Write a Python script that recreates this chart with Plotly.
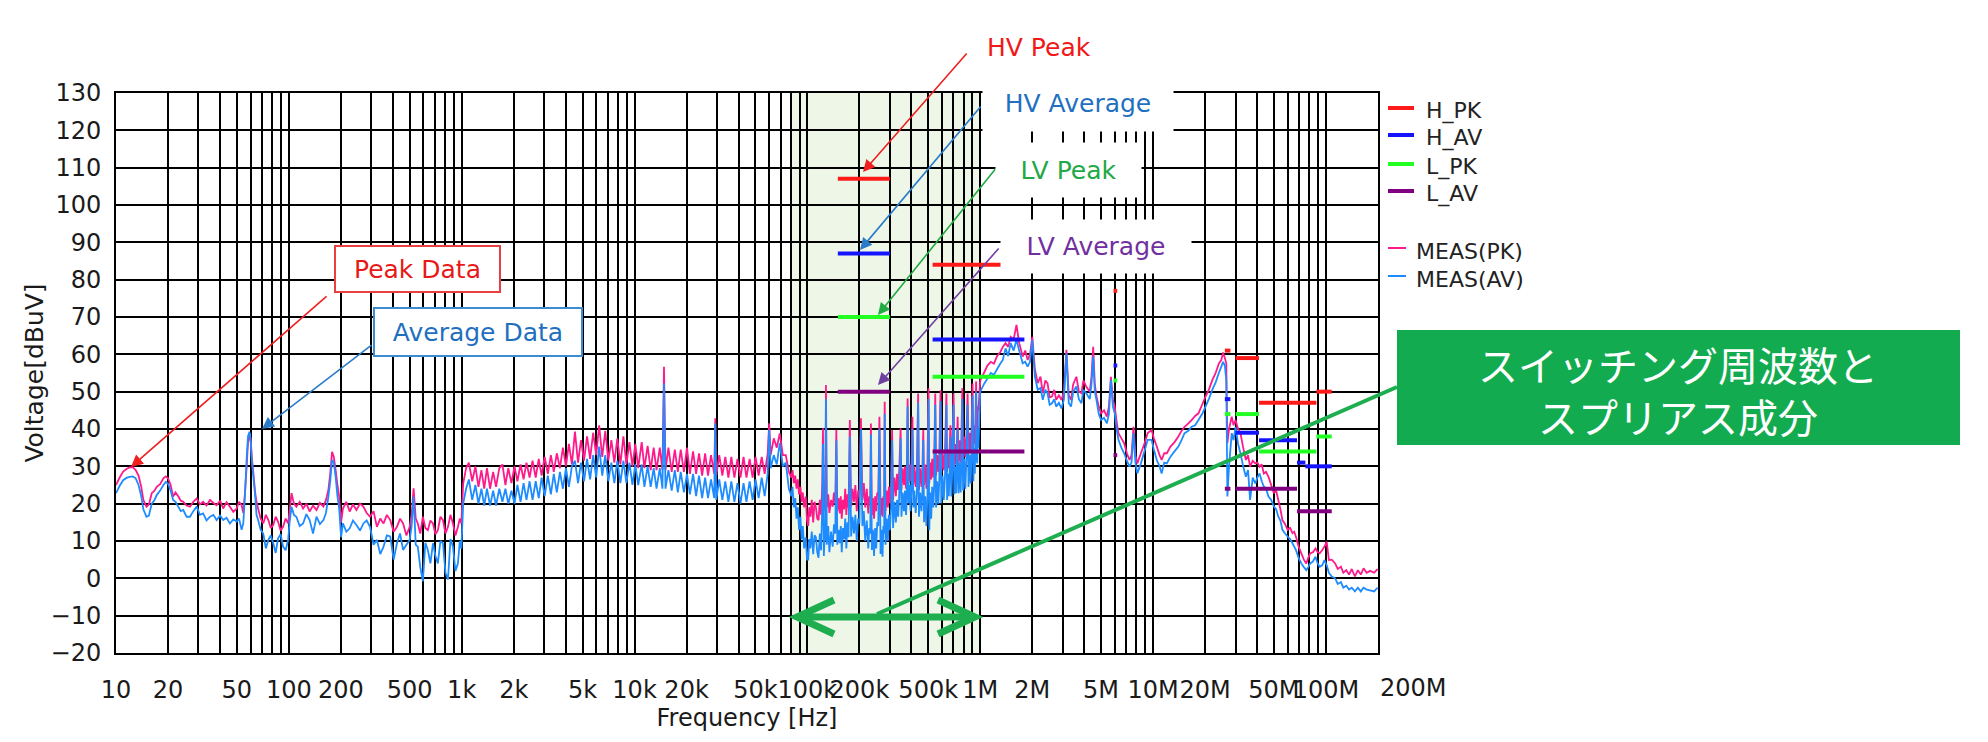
import math
import plotly.graph_objects as go

# ---------------- measured spectrum, read from the reference ----------------
# segment A : 10 Hz .. 1 kHz
freq_a = [10, 10.5, 11, 11.5, 12, 12.5, 13, 13.5, 14, 14.4,
          15, 15.5, 16.1, 16.7, 17.2, 18, 18.8, 19.4, 20, 20.7,
          21.4, 22.1, 22.9, 23.7, 24.5, 25.6, 26.8, 28, 29.3, 30.6,
          31.9, 33.4, 35, 36.6, 38.2, 40, 41.7, 43.6, 45.6, 47.7,
          49.9, 51.5, 53.3, 54.5, 55.7, 57, 58, 59, 59.6, 60.3,
          61, 62.4, 63.9, 65, 66.4, 68.7, 71.1, 73.6, 76.1, 78.6,
          81.2, 83.9, 86.6, 89.6, 92.6, 95.8, 99.1, 101, 103.6, 107,
          110.5, 115.6, 120.9, 126.3, 131.9, 138, 144.5, 151.3, 158.5, 164,
          169.3, 173.5, 177.8, 182, 186.5, 191, 195.5, 200.5, 205.5, 215,
          225, 235, 246, 258, 270, 282, 295, 309, 323, 338,
          353, 369, 386, 404, 422, 440, 458, 479, 500, 513,
          527, 542, 557, 576, 596, 616, 637, 659, 682, 705,
          728, 753, 779, 806, 833, 861, 890, 920, 951, 975,
          995]
pk_a = [25.0, 27.0, 28.6, 29.3, 29.7, 29.8, 29.0, 27.5, 24.5, 21.0,
        19.2, 19.8, 22.8, 23.5, 24.5, 25.2, 26.8, 27.3, 26.8, 25.0,
        21.9, 23.0, 22.0, 20.8, 20.5, 19.5, 19.2, 20.5, 21.4, 19.8,
        20.5, 19.5, 21.0, 20.2, 19.6, 20.8, 18.7, 20.4, 19.2, 17.8,
        18.7, 20.5, 19.6, 17.5, 22.8, 30.0, 36.2, 38.0, 38.4, 36.5,
        32.6, 28.0, 22.8, 20.5, 18.7, 16.0, 14.7, 17.0, 15.6, 13.5,
        14.3, 16.5, 15.2, 12.8, 13.8, 16.0, 14.7, 18.0, 22.8, 20.0,
        19.2, 20.5, 18.7, 20.0, 17.9, 19.5, 18.3, 20.2, 19.2, 21.0,
        23.7, 28.0, 33.9, 32.5, 29.0, 25.0, 21.9, 15.0, 18.7, 20.5,
        17.9, 19.8, 18.3, 20.0, 19.2, 17.5, 16.5, 18.0, 13.8, 16.0,
        14.7, 17.0, 15.6, 12.5, 13.8, 16.0, 14.7, 11.5, 13.8, 17.0,
        24.1, 16.0, 14.7, 12.0, 16.5, 13.5, 12.9, 15.5, 14.7, 11.8,
        12.9, 16.5, 15.6, 12.0, 13.8, 17.0, 14.7, 11.5, 13.8, 16.0,
        14.7]
av_a = [22.8, 24.8, 26.3, 26.9, 27.2, 27.3, 26.8, 25.0, 22.0, 18.5,
        16.5, 16.8, 20.0, 21.0, 22.3, 23.5, 25.0, 25.8, 25.4, 23.5,
        21.0, 20.5, 19.2, 18.0, 18.3, 16.5, 16.5, 18.0, 19.2, 17.0,
        17.4, 15.5, 16.5, 17.0, 15.6, 16.8, 15.6, 16.2, 14.7, 15.8,
        15.2, 16.0, 13.0, 14.7, 21.9, 32.0, 38.0, 39.0, 38.8, 36.0,
        31.7, 27.0, 21.9, 17.0, 15.6, 13.0, 12.0, 8.0, 10.3, 11.5,
        9.4, 6.8, 10.7, 11.8, 8.5, 7.5, 10.3, 15.0, 19.2, 17.0,
        16.5, 14.0, 14.7, 17.2, 15.6, 12.0, 16.5, 14.5, 15.6, 17.5,
        21.9, 26.0, 31.7, 31.0, 27.2, 22.0, 18.7, 11.0, 14.7, 12.5,
        13.4, 15.5, 14.3, 12.8, 14.7, 15.5, 13.8, 9.0, 10.3, 6.5,
        8.5, 11.5, 11.2, 5.0, 9.4, 12.0, 7.6, 9.0, 10.3, 14.0,
        21.9, 9.0, 8.5, 3.0, -0.8, 9.5, 7.6, 4.0, 9.4, 6.0,
        4.0, 10.0, 9.4, 1.5, -0.3, 10.5, 8.5, 2.0, 4.0, 10.0,
        8.0]

# segment B : 1 kHz .. 80 kHz
freq_b = [1020, 1060, 1100, 1150, 1200, 1250, 1300, 1350, 1400, 1460,
          1520, 1580, 1650, 1720, 1790, 1860, 1940, 2020, 2100, 2190,
          2280, 2370, 2470, 2570, 2680, 2790, 2900, 3020, 3150, 3280,
          3410, 3550, 3700, 3850, 4010, 4170, 4340, 4520, 4710, 4900,
          5100, 5310, 5530, 5760, 6000, 6240, 6500, 6770, 7050, 7340,
          7640, 7950, 8280, 8620, 8970, 9340, 9720, 10100, 10500, 11000,
          11400, 11900, 12400, 12900, 13400, 14000, 14500, 14800, 15100, 15700,
          16400, 17100, 17800, 18500, 19300, 20100, 20900, 21800, 22700, 23600,
          24600, 25600, 26600, 27700, 28900, 29300, 29700, 30900, 32200, 33500,
          34900, 36300, 37800, 39400, 41000, 42700, 44400, 46300, 48200, 50100,
          52200, 54400, 56600, 58900, 60100, 61300, 63900, 66500, 69200, 72100,
          75000, 78100]
pk_b = [25.4, 29.5, 31.0, 26.0, 30.0, 24.5, 29.0, 24.0, 29.5, 24.0,
        28.5, 24.5, 29.5, 30.5, 25.0, 29.5, 25.5, 30.0, 26.0, 30.5,
        26.5, 31.0, 27.0, 31.5, 27.0, 32.0, 27.5, 32.5, 28.0, 33.0,
        28.5, 33.5, 29.5, 35.0, 30.0, 36.0, 30.5, 39.3, 31.0, 37.0,
        31.5, 38.0, 32.0, 39.0, 33.0, 41.0, 32.5, 39.5, 31.5, 37.0,
        31.0, 37.5, 30.5, 38.0, 30.5, 36.5, 30.0, 36.0, 29.5, 36.5,
        29.5, 35.5, 29.0, 35.0, 29.0, 35.0, 29.0, 56.7, 29.0, 35.0,
        28.5, 34.5, 28.5, 34.5, 28.5, 35.0, 28.0, 34.0, 28.0, 33.5,
        27.5, 33.5, 27.5, 33.0, 28.0, 42.9, 27.5, 33.0, 27.5, 32.5,
        27.0, 32.5, 27.0, 32.0, 27.0, 32.5, 27.0, 32.0, 27.0, 32.5,
        27.5, 32.5, 28.0, 33.5, 41.5, 33.0, 37.5, 35.0, 38.8, 33.0,
        33.0, 28.5]
av_b = [20.0, 24.0, 26.5, 21.0, 25.0, 20.0, 24.0, 19.5, 24.0, 19.5,
        23.5, 19.5, 24.0, 20.5, 24.0, 20.0, 23.5, 20.0, 25.0, 20.5,
        25.5, 21.0, 26.0, 21.0, 26.0, 21.5, 27.0, 22.0, 27.5, 22.5,
        28.0, 23.0, 28.5, 24.0, 29.5, 24.5, 30.0, 31.5, 25.5, 31.0,
        26.0, 32.0, 26.5, 33.0, 27.0, 35.3, 27.5, 33.0, 26.0, 31.0,
        25.5, 31.5, 25.5, 31.5, 25.5, 31.0, 25.0, 30.5, 25.0, 30.5,
        24.5, 30.0, 24.5, 29.5, 24.0, 29.5, 24.0, 52.2, 24.0, 29.0,
        23.5, 29.0, 23.0, 28.5, 23.0, 28.0, 22.5, 28.0, 22.0, 27.5,
        21.5, 27.0, 21.5, 26.5, 21.5, 41.5, 21.0, 26.5, 21.0, 26.0,
        20.5, 26.0, 20.5, 25.5, 20.0, 25.5, 20.5, 26.0, 21.0, 26.5,
        21.5, 27.0, 22.0, 28.0, 39.7, 29.5, 33.0, 30.5, 36.2, 30.0,
        31.0, 24.0]

# segment C : 80 kHz .. 1 MHz (switching frequency and its harmonics)
freq_c = [80800, 82000, 83500, 85000, 86500, 88000, 89500, 91100, 92600, 94000,
          95800, 97800, 99500, 101000, 102500, 104000, 106000, 108000, 110000, 112000,
          114000, 116000, 118000, 120000, 122000, 123000, 124500, 126000, 127000, 128000,
          129500, 132000, 134000, 137000, 140000, 142500, 145000, 147000, 149000, 151500,
          154000, 156000, 158000, 160500, 163000, 165500, 168000, 170500, 173000, 176000,
          179000, 182500, 186000, 189500, 193000, 196500, 200000, 204000, 208000, 212000,
          216000, 220500, 225000, 228000, 231000, 233000, 236000, 239500, 243000, 246500,
          250000, 253500, 257000, 261000, 265000, 268500, 272000, 275000, 278000, 280000,
          283000, 287500, 292000, 296000, 300000, 305000, 309000, 313000, 319000, 325000,
          330000, 335000, 340000, 346000, 350000, 356000, 362000, 367000, 372000, 376000,
          380000, 385000, 390000, 395000, 400000, 405000, 410000, 416000, 423000, 430000,
          437000, 442000, 449000, 457000, 463000, 468000, 473000, 480000, 488000, 495000,
          502000, 507000, 513000, 520000, 527000, 535000, 542000, 549000, 555000, 563000,
          572000, 580000, 589000, 595000, 605000, 615000, 626000, 637000, 643000, 650000,
          658000, 665000, 672000, 680000, 690000, 701000, 708000, 716000, 725000, 733000,
          740000, 748000, 758000, 770000, 778000, 787000, 795000, 807000, 820000, 832000,
          845000, 855000, 867000, 880000, 891000, 902000, 912000, 921000, 930000, 938000,
          946000, 953000, 960000, 968000, 975000]
pk_c = [27.0, 29.0, 25.5, 27.5, 24.0, 26.5, 22.5, 24.5, 20.5, 23.0,
        19.0, 21.9, 15.5, 14.0, 19.0, 16.5, 21.0, 15.0, 20.5, 19.0,
        16.0, 15.6, 21.0, 17.0, 26.0, 40.2, 18.0, 22.0, 20.0, 51.8,
        19.0, 22.5, 17.5, 21.0, 19.2, 23.0, 20.0, 39.7, 18.0, 21.5,
        17.4, 22.0, 16.0, 21.0, 18.5, 24.0, 17.0, 22.5, 19.0, 42.4,
        19.2, 24.0, 20.5, 25.0, 18.0, 23.5, 21.9, 42.9, 21.0, 25.5,
        19.0, 24.0, 17.4, 22.0, 20.0, 41.5, 17.0, 21.5, 16.0, 22.0,
        18.0, 23.0, 22.0, 43.3, 17.0, 21.5, 16.5, 22.0, 20.0, 47.3,
        18.0, 23.5, 19.0, 24.5, 20.1, 26.0, 39.7, 21.0, 27.0, 22.0,
        28.0, 23.7, 29.0, 40.2, 23.7, 29.5, 25.0, 30.0, 24.0, 29.0,
        48.2, 25.4, 30.5, 26.0, 31.0, 43.3, 25.0, 30.0, 24.5, 29.5,
        49.5, 23.7, 29.5, 24.5, 30.0, 39.7, 25.0, 30.5, 24.0, 31.0,
        50.9, 25.4, 31.0, 26.5, 32.0, 27.0, 32.5, 49.5, 27.5, 33.0,
        28.5, 33.5, 50.4, 28.1, 34.0, 29.0, 34.5, 49.5, 28.5, 34.5,
        29.5, 35.0, 41.0, 29.0, 35.5, 49.5, 30.0, 36.0, 30.5, 36.5,
        43.3, 30.8, 37.0, 31.0, 37.5, 50.9, 31.5, 38.0, 32.5, 38.5,
        49.5, 33.0, 39.0, 34.4, 40.0, 52.2, 34.0, 41.0, 36.0, 42.0,
        52.7, 40.0, 38.0, 46.0, 45.0]
av_c = [22.0, 24.5, 19.0, 21.5, 16.0, 19.0, 13.0, 16.5, 10.5, 14.0,
        8.0, 11.0, 5.0, 5.0, 10.5, 8.0, 12.5, 6.5, 11.5, 11.0,
        7.0, 5.5, 12.0, 7.5, 20.0, 36.0, 6.0, 13.0, 10.0, 48.0,
        9.0, 14.0, 7.0, 12.5, 8.5, 14.5, 12.0, 37.0, 9.0, 13.0,
        9.4, 14.0, 7.0, 13.5, 10.5, 16.0, 8.0, 15.0, 11.0, 38.0,
        11.2, 16.5, 12.0, 17.0, 10.0, 16.0, 14.7, 40.0, 14.0, 18.0,
        10.0, 15.5, 8.0, 13.5, 12.0, 38.5, 7.6, 13.0, 6.0, 13.5,
        8.0, 15.0, 14.0, 40.0, 6.5, 13.0, 5.8, 14.0, 12.0, 44.0,
        9.0, 16.0, 10.0, 17.0, 12.9, 19.0, 37.0, 13.5, 20.5, 15.0,
        21.0, 16.5, 22.5, 37.5, 16.5, 23.0, 18.0, 23.5, 17.0, 22.0,
        46.0, 20.1, 25.0, 18.0, 24.5, 40.0, 19.0, 23.5, 17.5, 22.5,
        47.0, 16.5, 23.0, 18.0, 23.5, 37.0, 15.0, 22.0, 14.0, 22.5,
        48.0, 12.9, 23.0, 16.0, 24.5, 19.0, 25.5, 46.5, 19.0, 26.0,
        20.0, 27.0, 47.5, 20.1, 27.5, 21.0, 28.0, 46.5, 21.0, 28.0,
        22.0, 29.0, 38.0, 21.9, 29.5, 46.5, 22.5, 30.0, 22.8, 30.5,
        40.0, 22.8, 31.0, 23.0, 31.5, 48.0, 23.5, 32.0, 24.0, 32.5,
        46.5, 24.5, 33.0, 25.4, 34.0, 49.0, 26.0, 35.0, 28.0, 36.0,
        50.0, 33.0, 30.8, 40.0, 35.0]

# segment D : 1 MHz .. 200 MHz
freq_d = [1.0e6, 1.05e6, 1.1e6, 1.15e6, 1.2e6, 1.25e6, 1.31e6, 1.35e6, 1.4e6, 1.45e6,
          1.5e6, 1.56e6, 1.62e6, 1.68e6, 1.76e6, 1.82e6, 1.88e6, 1.94e6, 2.0e6, 2.07e6,
          2.15e6, 2.23e6, 2.3e6, 2.38e6, 2.45e6, 2.52e6, 2.6e6, 2.68e6, 2.75e6, 2.85e6,
          2.95e6, 3.05e6, 3.15e6, 3.25e6, 3.35e6, 3.45e6, 3.6e6, 3.72e6, 3.85e6, 3.95e6,
          4.1e6, 4.3e6, 4.4e6, 4.5e6, 4.6e6, 4.7e6, 4.85e6, 5.0e6, 5.2e6, 5.4e6,
          5.55e6, 5.7e6, 5.85e6, 6.0e6, 6.15e6, 6.3e6, 6.55e6, 6.8e6, 7.05e6, 7.3e6,
          7.5e6, 7.7e6, 7.9e6, 8.1e6, 8.5e6, 8.9e6, 9.3e6, 9.8e6, 10.1e6, 10.5e6,
          10.9e6, 11.2e6, 11.6e6, 12.0e6, 12.6e6, 13.3e6, 14.0e6, 14.6e6, 15.2e6, 16.0e6,
          16.7e6, 17.5e6, 18.3e6, 19.2e6, 20.1e6, 21.0e6, 22.0e6, 23.0e6, 24.0e6, 24.8e6,
          25.4e6, 26.0e6, 26.5e6, 26.9e6, 27.5e6, 28.5e6, 29.2e6, 30.0e6, 31.0e6, 32.0e6,
          33.2e6, 34.4e6, 35.4e6, 36.4e6, 37.7e6, 39.0e6, 40.1e6, 41.3e6, 42.5e6, 43.7e6,
          45.0e6, 46.5e6, 48.2e6, 50.0e6, 51.5e6, 53.0e6, 54.5e6, 56.0e6, 58.0e6, 60.0e6,
          62.0e6, 64.0e6, 65.5e6, 67.0e6, 69.5e6, 72.0e6, 74.5e6, 77.0e6, 79.0e6, 81.0e6,
          84.0e6, 87.0e6, 89.5e6, 92.0e6, 95.0e6, 98.0e6, 101e6, 104e6, 108e6, 113e6,
          117e6, 122e6, 126e6, 131e6, 136e6, 141e6, 147e6, 153e6, 159e6, 165e6,
          172e6, 180e6, 190e6, 199e6]
pk_d = [53.0, 55.0, 57.0, 58.0, 57.5, 59.5, 60.7, 62.0, 63.0, 62.0,
        64.7, 64.0, 67.9, 63.0, 59.4, 61.0, 58.5, 60.0, 64.7, 56.0,
        52.3, 54.0, 49.6, 53.0, 52.3, 48.5, 48.7, 50.5, 47.8, 49.0,
        47.8, 50.0, 61.2, 49.0, 47.8, 52.0, 54.0, 50.0, 49.6, 53.0,
        51.4, 50.0, 54.0, 62.0, 52.0, 48.7, 46.0, 44.2, 45.0, 43.3,
        46.0, 54.0, 48.0, 46.0, 42.0, 38.9, 37.5, 36.2, 33.5, 31.7,
        33.0, 40.6, 33.0, 30.8, 33.5, 36.0, 38.9, 39.7, 37.5, 35.3,
        33.0, 31.7, 33.5, 33.5, 35.3, 36.5, 38.0, 39.5, 40.6, 41.5,
        42.4, 43.5, 44.2, 46.5, 48.7, 50.5, 53.1, 55.0, 57.5, 58.5,
        60.5, 59.0, 57.6, 36.2, 40.0, 43.3, 41.0, 42.4, 40.0, 38.9,
        35.0, 31.7, 33.0, 29.9, 31.5, 30.8, 31.0, 29.9, 30.5, 28.1,
        28.5, 27.2, 25.0, 22.8, 23.5, 21.0, 18.5, 15.6, 14.5, 13.0,
        13.5, 12.1, 12.5, 11.2, 8.5, 6.7, 5.0, 4.0, 5.5, 6.7,
        7.0, 8.0, 7.0, 6.7, 7.5, 8.5, 9.8, 4.9, 5.0, 4.0,
        2.5, 3.1, 1.5, 2.2, 1.0, 2.5, 0.5, 2.2, 1.0, 2.7,
        1.5, 2.0, 1.5, 2.5]
av_d = [50.0, 52.0, 53.5, 55.0, 54.5, 56.0, 57.6, 58.5, 61.6, 59.5,
        63.0, 61.0, 63.9, 61.0, 57.6, 58.0, 56.7, 58.0, 63.9, 54.0,
        50.5, 51.0, 47.8, 50.5, 49.6, 46.5, 46.9, 48.0, 46.0, 47.0,
        45.5, 48.0, 60.3, 47.0, 46.0, 50.0, 51.4, 48.0, 46.9, 50.5,
        49.6, 48.0, 52.0, 59.4, 50.0, 47.8, 44.0, 42.4, 43.0, 41.5,
        44.0, 53.1, 46.0, 44.2, 40.0, 37.1, 35.0, 33.5, 31.5, 29.9,
        31.0, 38.9, 31.0, 28.1, 30.8, 34.0, 37.1, 37.1, 34.5, 31.7,
        30.0, 28.1, 31.0, 30.8, 32.6, 34.0, 35.3, 37.0, 38.9, 39.5,
        40.6, 41.0, 42.4, 44.0, 46.0, 48.0, 50.5, 52.5, 55.0, 56.7,
        58.0, 57.0, 53.1, 21.9, 30.0, 38.9, 37.0, 40.6, 36.0, 33.5,
        30.0, 27.2, 29.0, 21.0, 27.0, 25.4, 27.0, 28.1, 26.0, 24.6,
        24.0, 21.9, 21.0, 19.2, 18.5, 16.5, 15.5, 13.0, 12.0, 11.2,
        10.5, 9.4, 8.5, 7.6, 5.5, 4.0, 3.0, 2.2, 3.0, 4.0,
        4.5, 5.8, 4.0, 3.1, 3.5, 4.9, 3.5, 1.5, 0.5, 0.0,
        -1.5, -1.0, -2.5, -2.0, -3.0, -2.5, -3.5, -2.5, -3.5, -2.5,
        -3.0, -3.2, -3.5, -2.5]

freq_hz = freq_a + freq_b + freq_c + freq_d
meas_pk = pk_a + pk_b + pk_c + pk_d
meas_av = av_a + av_b + av_c + av_d

# ---------------- limit lines: (start Hz, stop Hz, level dBuV) ----------------
h_pk_limits = [(150e3, 300e3, 107), (530e3, 1.8e6, 84), (5.9e6, 6.2e6, 77),
               (26e6, 28e6, 61), (30e6, 41e6, 59), (41e6, 88e6, 47), (88e6, 108e6, 50)]
h_av_limits = [(150e3, 300e3, 87), (530e3, 1.8e6, 64), (5.9e6, 6.2e6, 57),
               (26e6, 28e6, 48), (30e6, 41e6, 39), (41e6, 68e6, 37), (68e6, 76e6, 31),
               (76e6, 108e6, 30)]
l_pk_limits = [(150e3, 300e3, 70), (530e3, 1.8e6, 54), (5.9e6, 6.2e6, 53),
               (26e6, 28e6, 44), (30e6, 41e6, 44), (41e6, 88e6, 34), (88e6, 108e6, 38)]
l_av_limits = [(150e3, 300e3, 50), (530e3, 1.8e6, 34), (5.9e6, 6.2e6, 33),
               (26e6, 28e6, 24), (30e6, 68e6, 24), (68e6, 108e6, 18)]

# ---------------- axis ticks ----------------
x_label_vals = [10, 20, 50, 100, 200, 500, 1000, 2000, 5000, 10000, 20000, 50000,
                100000, 200000, 500000, 1000000, 2000000, 5000000, 10000000,
                20000000, 50000000, 100000000]
x_label_text = ["10", "20", "50", "100", "200", "500", "1k", "2k", "5k", "10k", "20k",
                "50k", "100k", "200k", "500k", "1M", "2M", "5M", "10M", "20M", "50M", "100M"]
y_tick_vals = [-20, -10, 0, 10, 20, 30, 40, 50, 60, 70, 80, 90, 100, 110, 120, 130]

X_MIN, X_MAX = 10, 2e8
switch_band = (80e3, 1e6)

# ---------------- helpers (decoration placement) ----------------
L, T, W, H = 116, 93, 1262, 560
FIG_W, FIG_H = 1988, 742


def px(x):
    return (x - L) / W


def py(y):
    return (T + H - y) / H


def fx(f):
    return (math.log10(f) - math.log10(X_MIN)) / (math.log10(X_MAX) - math.log10(X_MIN))


def limit_xy(segs):
    xs, ys = [], []
    for f0, f1, lv in segs:
        xs += [f0, f1, None]
        ys += [lv, lv, None]
    return xs, ys


grid_vals, grid_text = [], []
label_map = dict(zip(x_label_vals, x_label_text))
for e in range(1, 8):
    for m in range(1, 10):
        v = m * 10 ** e
        grid_vals.append(v)
        grid_text.append(label_map.get(v, ""))
grid_vals.append(10 ** 8)
grid_text.append(label_map[10 ** 8])

FONT = "DejaVu Sans"
TXT = "#1a1a1a"

PK_COLOR, AV_COLOR = "#FF1A8C", "#1E8CFF"
limit_styles = [("H_PK", h_pk_limits, "#FF1A1A"),
                ("H_AV", h_av_limits, "#1414FF"),
                ("L_PK", l_pk_limits, "#22FF22"),
                ("L_AV", l_av_limits, "#800080")]

fig = go.Figure()
fig.add_trace(go.Scatter(x=freq_hz, y=meas_pk, mode="lines", name="MEAS(PK)",
                         line=dict(color=PK_COLOR, width=1.8, simplify=False)))
fig.add_trace(go.Scatter(x=freq_hz, y=meas_av, mode="lines", name="MEAS(AV)",
                         line=dict(color=AV_COLOR, width=1.8, simplify=False)))
for name, segs, color in limit_styles:
    xs, ys = limit_xy(segs)
    fig.add_trace(go.Scatter(x=xs, y=ys, mode="lines", name=name,
                             line=dict(color=color, width=4)))

GREEN = "#1EAE50"
shapes = [
    # switching-frequency band
    dict(type="rect", xref="paper", yref="paper", x0=fx(switch_band[0]), x1=fx(switch_band[1]),
         y0=0, y1=1, fillcolor="#EDF6E7", line=dict(width=0), layer="below"),
    # connector from callout to double arrow
    dict(type="line", xref="paper", yref="paper", x0=px(877), y0=py(614), x1=px(1397), y1=py(387),
         line=dict(color=GREEN, width=4)),
    # double arrow
    dict(type="line", xref="paper", yref="paper", x0=px(797), y0=py(617), x1=px(974), y1=py(617),
         line=dict(color=GREEN, width=7)),
    dict(type="path", xref="paper", yref="paper",
         path=f"M{px(834)},{py(600)} L{px(797)},{py(617)} L{px(834)},{py(634)}",
         line=dict(color=GREEN, width=7)),
    dict(type="path", xref="paper", yref="paper",
         path=f"M{px(938)},{py(600)} L{px(975)},{py(617)} L{px(938)},{py(634)}",
         line=dict(color=GREEN, width=7)),
    # green callout box
    dict(type="rect", xref="paper", yref="paper", x0=px(1397), x1=px(1960), y0=py(445), y1=py(330),
         fillcolor="#12AB4F", line=dict(width=0)),
]


def arrow(xt, yt, xh, yh, color):
    return dict(x=px(xh), y=py(yh), xref="paper", yref="paper", ax=xt - xh, ay=yt - yh,
                text="", showarrow=True, arrowhead=2, arrowsize=1.5, arrowwidth=1.6,
                arrowcolor=color, standoff=0, startstandoff=0)


def label(text, cx, cy, color, w=None, h=None, border=None, size=25):
    d = dict(x=px(cx), y=py(cy), xref="paper", yref="paper", text=text, showarrow=False,
             font=dict(family=FONT, size=size, color=color), bgcolor="white",
             borderpad=0, xanchor="center", yanchor="middle")
    if w:
        d["width"] = w
    if h:
        d["height"] = h
    if border:
        d["bordercolor"] = border
        d["borderwidth"] = 2
    return d


annotations = [
    arrow(328, 295, 131, 467, "#F02020"),
    arrow(373, 344, 262, 429, "#2A7CC8"),
    arrow(968, 52, 863, 172, "#F02020"),
    arrow(982, 105, 860, 250, "#2A7CC8"),
    arrow(997, 167, 878, 315, "#22AA44"),
    arrow(1000, 247, 878, 385, "#7040A0"),
    label("Peak Data", 417, 269, "#E81818", w=163, h=44, border="#E84040"),
    label("Average Data", 478, 332, "#1F6FBF", w=206, h=46, border="#3C8CD2"),
    label("HV Peak", 1039, 47, "#F01818"),
    label("HV Average", 1078, 103, "#1F70C1", w=190, h=56),
    label("LV Peak", 1068, 170, "#22A845", w=145, h=54),
    label("LV Average", 1096, 246, "#7030A0", w=190, h=53),
    dict(x=px(1678), y=py(390), xref="paper", yref="paper",
         text="スイッチング周波数と<br>スプリアス成分", showarrow=False,
         font=dict(family="Noto Sans CJK JP", size=40, color="white"),
         xanchor="center", yanchor="middle"),
    dict(x=1.0, y=py(688), xref="paper", yref="paper", text="200M", showarrow=False,
         font=dict(family=FONT, size=24, color=TXT), xanchor="left", yanchor="middle"),
]

# ---------------- legend (keys + text beside the plot) ----------------
legend_rows = [(name, color, 4, yy, 1414, 1424) for (name, _, color), yy in
               zip(limit_styles, [108, 135, 164, 191])]
legend_rows += [("MEAS(PK)", PK_COLOR, 2, 248, 1406, 1414),
                ("MEAS(AV)", AV_COLOR, 2, 276, 1406, 1414)]
for name, color, lw, yy, x_end, x_txt in legend_rows:
    shapes.append(dict(type="line", xref="paper", yref="paper", x0=px(1388), x1=px(x_end),
                       y0=py(yy), y1=py(yy), line=dict(color=color, width=lw)))
    annotations.append(dict(x=px(x_txt), y=py(yy + 3), xref="paper", yref="paper", text=name,
                            showarrow=False, xanchor="left", yanchor="middle",
                            font=dict(family=FONT, size=22, color="#222222")))

fig.update_layout(
    width=FIG_W, height=FIG_H,
    margin=dict(l=L, r=FIG_W - L - W, t=T, b=FIG_H - T - H, pad=0),
    paper_bgcolor="white", plot_bgcolor="rgba(0,0,0,0)",
    font=dict(family=FONT, size=24, color=TXT),
    showlegend=False,
    xaxis=dict(type="log", range=[math.log10(X_MIN), math.log10(X_MAX)],
               tickmode="array", tickvals=grid_vals, ticktext=grid_text, tickangle=0,
               showgrid=True, gridcolor="black", gridwidth=2, zeroline=False,
               showline=True, mirror=True, linecolor="black", linewidth=2,
               ticks="", ticklabelstandoff=14,
               tickfont=dict(family=FONT, size=24, color=TXT),
               title=dict(text="Frequency [Hz]", font=dict(family=FONT, size=24, color=TXT),
                          standoff=6),
               automargin=False),
    yaxis=dict(range=[-20, 130], tickmode="array", tickvals=y_tick_vals,
               showgrid=True, gridcolor="black", gridwidth=2, zeroline=False,
               showline=True, mirror=True, linecolor="black", linewidth=2,
               ticks="", ticklabelstandoff=8,
               tickfont=dict(family=FONT, size=24, color=TXT),
               title=dict(text="Voltage[dBuV]", font=dict(family=FONT, size=25, color=TXT),
                          standoff=0),
               automargin=False),
    shapes=shapes,
    annotations=annotations,
)

fig.write_html("out.html")
